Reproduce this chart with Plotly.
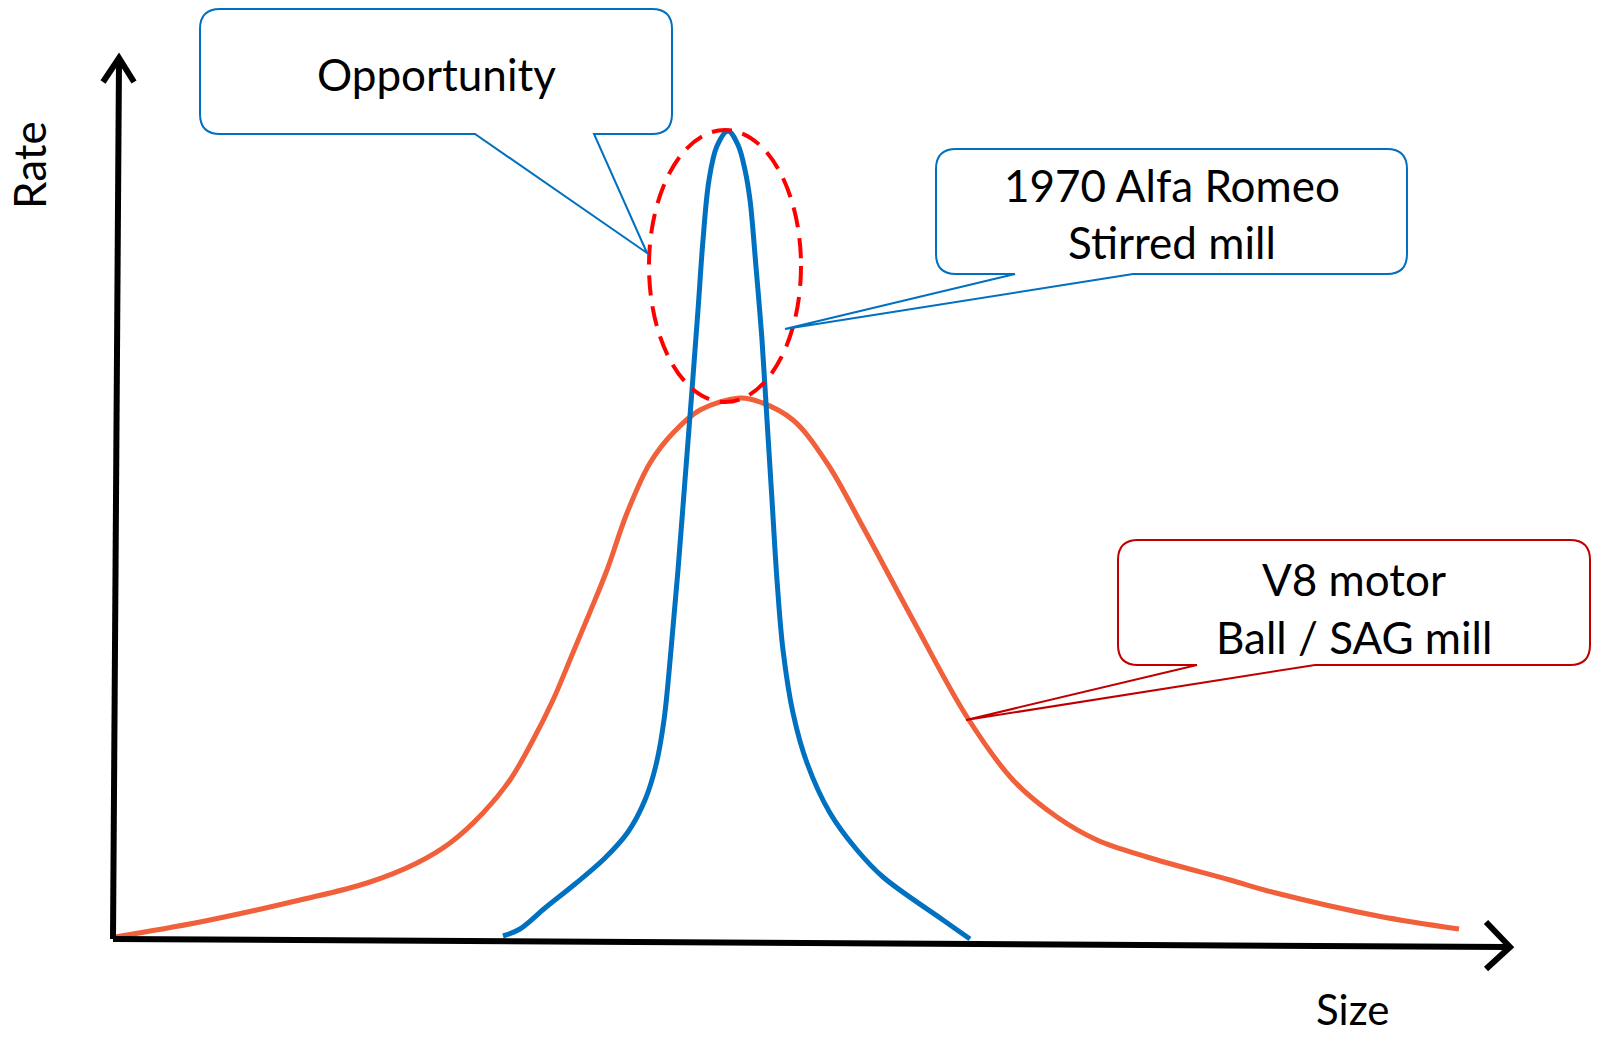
import plotly.graph_objects as go

# ---- data (Size / Rate units, origin at the axis corner) ----
v8_size = [2, 87, 187, 254, 304, 337, 370, 397, 420, 440, 459, 477, 494, 514, 537, 560,
           587, 627, 647, 680, 714, 750, 800, 854, 900, 944, 984, 1034, 1117, 1163, 1265, 1346]
v8_rate = [2, 17, 39, 56, 76, 96, 126, 159, 199, 239, 284, 327, 369, 426, 476, 506,
           529, 541, 537, 519, 476, 412, 319, 222, 159, 122, 99, 82, 59, 46, 23, 10]

stirred_size = [390, 407, 432, 462, 492, 515, 532, 543, 551, 558, 565, 572, 579, 585, 590,
                596, 604, 615,
                625, 632, 637, 643, 649, 654, 659, 664, 670, 680, 694, 717, 744, 770, 830, 857]
stirred_rate = [3, 10, 31, 55, 81, 107, 139, 174, 219, 289, 369, 459, 549, 629, 699,
                759, 793, 808,
                794, 769, 739, 672, 599, 519, 439, 359, 289, 226, 176, 126, 89, 62, 19, 0]

x_label = "Size"
y_label = "Rate"
callout_texts = [["Opportunity"], ["1970 Alfa Romeo", "Stirred mill"], ["V8 motor", "Ball / SAG mill"]]

# ---- layout helpers (page pixels -> axis units) ----
OX, OY = 113, 939
def ux(p):
    return p - OX
def uy(p):
    return OY - p

W, H = 1600, 1037
BLUE = "#0070C0"
ORANGE = "#F0603A"
DARKRED = "#C00000"
FONT = "Lato"

fig = go.Figure()
fig.add_trace(go.Scatter(x=v8_size, y=v8_rate, mode="lines",
                         line=dict(color=ORANGE, width=5, shape="spline", smoothing=1.0),
                         hoverinfo="skip", showlegend=False))
fig.add_trace(go.Scatter(x=stirred_size, y=stirred_rate, mode="lines",
                         line=dict(color=BLUE, width=5, shape="spline", smoothing=1.0),
                         hoverinfo="skip", showlegend=False))

shapes = []
# axes
shapes.append(dict(type="line", x0=ux(113), y0=uy(939), x1=ux(119), y1=uy(60),
                   line=dict(color="black", width=6)))
shapes.append(dict(type="path", path=f"M{ux(103)},{uy(82)} L{ux(119)},{uy(58)} L{ux(134)},{uy(82)}",
                   line=dict(color="black", width=6)))
shapes.append(dict(type="line", x0=ux(113), y0=uy(939), x1=ux(1508), y1=uy(947),
                   line=dict(color="black", width=6)))
shapes.append(dict(type="path", path=f"M{ux(1486)},{uy(922)} L{ux(1510)},{uy(947)} L{ux(1486)},{uy(969)}",
                   line=dict(color="black", width=6)))

# opportunity ellipse
shapes.append(dict(type="circle", x0=ux(649), x1=ux(801), y0=uy(402), y1=uy(130),
                   line=dict(color="#FF0000", width=4, dash="20px,11px")))

def callout(l, t, r, b, ta, tip, tb, color, rad=20):
    p = [f"M{ux(l+rad)},{uy(t)}",
         f"L{ux(r-rad)},{uy(t)}",
         f"Q{ux(r)},{uy(t)} {ux(r)},{uy(t+rad)}",
         f"L{ux(r)},{uy(b-rad)}",
         f"Q{ux(r)},{uy(b)} {ux(r-rad)},{uy(b)}",
         f"L{ux(tb)},{uy(b)}",
         f"L{ux(tip[0])},{uy(tip[1])}",
         f"L{ux(ta)},{uy(b)}",
         f"L{ux(l+rad)},{uy(b)}",
         f"Q{ux(l)},{uy(b)} {ux(l)},{uy(b-rad)}",
         f"L{ux(l)},{uy(t+rad)}",
         f"Q{ux(l)},{uy(t)} {ux(l+rad)},{uy(t)}",
         "Z"]
    return dict(type="path", path=" ".join(p), line=dict(color=color, width=2),
                fillcolor="rgba(255,255,255,1)")

shapes.append(callout(200, 9, 672, 134, 475, (647, 253), 594, BLUE))
shapes.append(callout(936, 149, 1407, 274, 1015, (785, 329), 1133, BLUE))
shapes.append(callout(1118, 540, 1590, 665, 1197, (966, 720), 1315, DARKRED))

annotations = []
def label(text, x, y, angle=0, size=44):
    annotations.append(dict(text=text, x=ux(x), y=uy(y), xref="x", yref="y",
                            showarrow=False, textangle=angle,
                            font=dict(family=FONT, size=size, color="black"),
                            xanchor="center", yanchor="middle"))

label(callout_texts[0][0], 436, 74)
label(callout_texts[1][0], 1172, 185)
label(callout_texts[1][1], 1172, 242)
label(callout_texts[2][0], 1354, 579)
label(callout_texts[2][1], 1354, 637)
label(y_label, 29, 165, angle=-90)
label(x_label, 1352, 1009, size=42)

fig.update_layout(
    width=W, height=H,
    margin=dict(l=0, r=0, t=0, b=0),
    paper_bgcolor="white", plot_bgcolor="white",
    xaxis=dict(range=[ux(0), ux(W)], visible=False, fixedrange=True),
    yaxis=dict(range=[uy(H), uy(0)], visible=False, fixedrange=True),
    shapes=shapes, annotations=annotations,
    showlegend=False,
)

fig.write_html("out.html")
